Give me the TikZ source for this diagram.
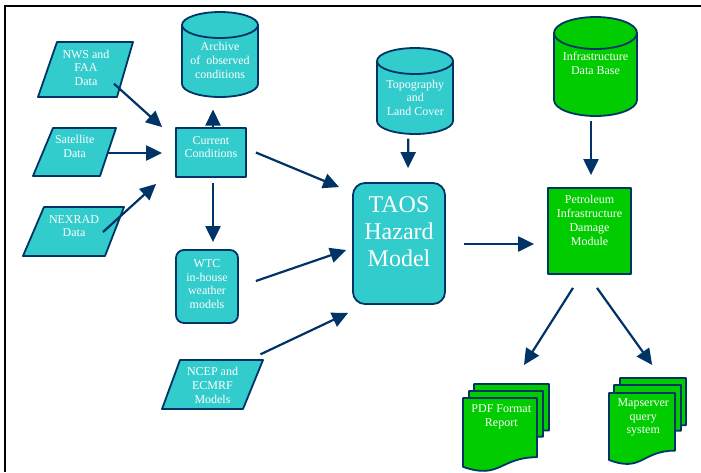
\documentclass[tikz,border=0pt]{standalone}
\usepackage{fontspec}
\setmainfont{Liberation Serif}
\usetikzlibrary{arrows.meta,calc}
\definecolor{tcyan}{HTML}{33CCCC}
\definecolor{tgreen}{HTML}{00CC00}
\definecolor{navy}{HTML}{003366}
% cylinder: xl, xr, ytop, ybottom, ry, style
\newcommand\drawcyl[6]{%
  \path[#6] (#1,{#3+#5}) -- (#1,{#4-#5})
    arc[start angle=180,end angle=0,x radius={(#2-#1)/2},y radius=#5]
    -- (#2,{#3+#5})
    arc[start angle=0,end angle=-180,x radius={(#2-#1)/2},y radius=#5] -- cycle;
  \draw[#6,fill=none] (#1,{#3+#5})
    arc[start angle=180,end angle=0,x radius={(#2-#1)/2},y radius=#5];
}
% document page: xl, xr, ytop, h, style
\newcommand\drawdoc[5]{%
  \path[#5] (#1,#3) -- (#2,#3) -- (#2,{#3+0.80*#4})
    .. controls ({(#1+#2)/2},{#3+0.80*#4}) and ({(#1+#2)/2},{#3+1.107*#4})
    .. (#1,{#3+0.93*#4}) -- cycle;
}
\begin{document}
\begin{tikzpicture}[x=1pt,y=-1pt,
  shp/.style={draw=navy,line width=1.8pt,line join=round},
  cy/.style={shp,fill=tcyan},
  gr/.style={shp,fill=tgreen},
  txt/.style={text=white,align=center,font=\fontsize{12}{13.8}\selectfont,inner sep=0pt},
  bigtxt/.style={text=white,align=center,font=\fontsize{24}{27.2}\selectfont,inner sep=0pt},
  arr/.style={draw=navy,line width=2.2pt,-{Triangle[length=16pt,width=15pt]}}]

\useasboundingbox (0,0) rectangle (701,472);
\draw[line width=2.5pt] (3.75,6) -- (701,6);
\draw[line width=2.5pt] (5,4.75) -- (5,472);

% input parallelograms
\draw[cy] (57,42) -- (133,42) -- (117,97) -- (38,97) -- cycle;
\node[txt] (nws) at (86,67.75) {NWS and\\FAA\\Data};
\draw[cy] (53,128) -- (116,128) -- (100,176) -- (33,176) -- cycle;
\node[txt] (sat) at (74.7,146) {Satellite\\Data};
\draw[cy] (44,207) -- (124,207) -- (105,256) -- (23,256) -- cycle;
\node[txt] (nex) at (74,226) {NEXRAD\\Data};
\draw[cy] (180,360) -- (263,360) -- (243,409) -- (162,409) -- cycle;
\node[txt] (ncep) at (212.5,385.3) {NCEP and\\ECMRF\\Models};

% cylinders
\drawcyl{182}{258}{12}{97}{13}{cy}
\node[txt] (arch) at (220,60.5) {Archive\\of\ \ observed\\conditions};
\drawcyl{377}{453}{48}{134}{13}{cy}
\node[txt] (topo) at (415.3,97.7) {Topography\\and\\Land Cover};
\drawcyl{554}{637}{17}{116}{16}{gr}
\node[txt] (idb) at (595.5,63.7) {Infrastructure\\Data Base};

% boxes
\node[cy,minimum width=70pt,minimum height=49pt,
  label={[txt,yshift=5.5pt]center:{Current\\Conditions}}] (cc) at (211,152.5) {};
\node[cy,rounded corners=8pt,minimum width=62pt,minimum height=73pt,
  label={[txt,yshift=2.5pt]center:{WTC\\in-house\\weather\\models}}] (wtc) at (207,286.5) {};
\node[cy,rounded corners=12pt,minimum width=92pt,minimum height=121pt,
  label={[bigtxt,yshift=12pt]center:{TAOS\\Hazard\\Model}}] (taos) at (399,243.5) {};
\node[gr,minimum width=83pt,minimum height=86pt,
  label={[txt,yshift=10.5pt]center:{Petroleum\\Infrastructure\\Damage\\Module}}] (pidm) at (589.5,231) {};

% output documents
\drawdoc{474}{549}{384}{58}{gr}
\drawdoc{469}{543}{391}{57}{gr}
\drawdoc{463}{537}{398}{74}{gr}
\node[txt] (pdf) at (501.3,416.5) {PDF Format\\Report};
\drawdoc{620}{686}{378}{59}{gr}
\drawdoc{614}{681}{385}{57}{gr}
\drawdoc{609}{675}{393}{72}{gr}
\node[txt] (map) at (643.2,417.5) {Mapserver\\query\\system};

% connectors
\draw[arr] ($(nws)+(28,16)$) -- ($(cc.north west)+(-13,0)$);
\draw[arr] ($(sat)+(33,7)$) -- ($(cc.west)+(-13,0.5)$);
\draw[arr] ($(nex)+(29,6)$) -- ($(cc.south west)+(-19,6)$);
\draw[arr] ($(cc.north)+(2,0)$) -- ($(arch)+(-7,49)$);
\draw[arr] ($(cc.south)+(2,5)$) -- ($(wtc.north)+(6,-7)$);
\draw[arr] ($(cc.east)+(9,0)$) -- ($(taos.north west)+(-13,5)$);
\draw[arr] ($(wtc.east)+(17,-5.5)$) -- ($(taos.west)+(-6,6.5)$);
\draw[arr] ($(ncep)+(48,-31)$) -- ($(taos.south west)+(-4,8)$);
\draw[arr] ($(topo)+(-7,41)$) -- ($(taos.north)+(9,-14)$);
\draw[arr] ($(taos.east)+(18,0.5)$) -- ($(pidm.west)+(-13,13)$);
\draw[arr] ($(idb)+(-4.5,57)$) -- ($(pidm.north)+(1.5,-12)$);
\draw[arr] ($(pidm.south)+(-16.5,13)$) -- ($(pdf)+(22.7,-51.5)$);
\draw[arr] ($(pidm.south)+(7.5,13)$) -- ($(map)+(9,-52.5)$);
\end{tikzpicture}
\end{document}
